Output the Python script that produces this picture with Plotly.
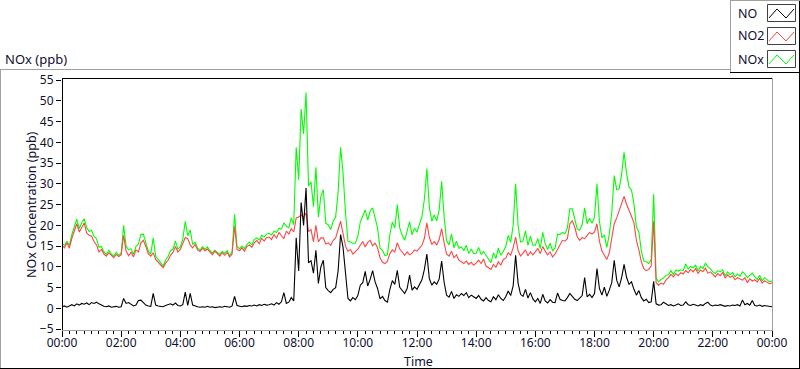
import plotly.graph_objects as go
import pandas as pd

# ---------------- data (5-minute readings, 00:00 -> 24:00) ----------------
times = pd.date_range("2020-01-01 00:00", "2020-01-02 00:00", freq="5min")

no2_ppb = [
    15.2, 14.6, 15.8, 14.5, 16.9, 18.8, 20.4, 18.4, 19.5, 20.6, 18.2, 17.6,
    17.4, 16.1, 15.3, 13.6, 14.2, 13.1, 12.6, 13.4, 12.8, 12.2, 13.0, 12.5,
    12.9, 17.6, 13.8, 12.7, 13.5, 12.4, 14.1, 13.6, 15.8, 16.4, 14.9, 13.2,
    12.6, 13.4, 11.8, 11.2, 10.4, 9.8, 10.9, 11.6, 12.8, 13.5, 14.9, 13.6,
    14.2, 15.8, 17.1, 16.8, 15.3, 14.6, 15.4, 14.1, 13.7, 14.5, 13.9, 14.3,
    13.6, 12.9, 13.8, 13.2, 12.6, 13.4, 12.8, 13.5, 12.4, 13.1, 19.8, 14.2,
    13.9, 14.6, 13.8, 14.9, 15.3, 14.7, 15.8, 16.4, 15.6, 16.9, 16.2, 17.1,
    17.2, 16.6, 17.8, 16.9, 18.3, 17.5, 16.8, 18.6, 17.9, 19.2, 18.4, 21.8,
    22.0, 22.5, 22.0, 23.0, 18.5, 19.0, 16.0, 20.0, 16.0, 17.0, 17.0, 15.5,
    15.8, 15.2, 16.4, 17.0, 19.0, 21.0, 18.0, 15.0, 13.8, 14.2, 13.1, 13.6,
    14.3, 15.2, 16.1, 14.8, 15.9, 16.4, 15.1, 15.7, 14.6, 12.2, 11.1, 10.8,
    11.4, 13.2, 14.1, 13.6, 15.8, 14.3, 13.4, 12.8, 13.6, 12.9, 13.3, 14.1,
    13.8, 14.6, 15.2, 16.9, 20.6, 17.2, 15.4, 16.1, 15.3, 16.6, 19.2, 15.8,
    13.1, 12.6, 13.8, 12.2, 12.9, 11.6, 11.2, 10.8, 11.4, 10.6, 11.1, 10.4,
    10.9, 11.6, 10.8, 11.9, 10.2, 9.8, 9.4, 10.6, 9.9, 11.2, 10.4, 11.8,
    12.1, 13.4, 12.8, 14.6, 17.2, 13.9, 12.6, 13.3, 14.1, 12.7, 13.6, 12.9,
    13.6, 14.4, 13.2, 14.9, 13.8, 12.9, 13.6, 12.4, 13.1, 14.2, 15.6, 16.4,
    16.2, 16.8, 20.4, 21.1, 19.6, 17.2, 16.4, 17.1, 16.8, 17.6, 18.3, 17.9,
    18.4, 20.4, 16.2, 13.8, 12.6, 11.8, 13.4, 16.9, 20.4, 21.8, 23.6, 24.9,
    27.0, 25.1, 23.4, 22.2, 20.6, 16.4, 14.1, 11.2, 9.6, 9.1, 9.4, 10.2,
    21.0, 6.2, 5.6, 6.1, 5.8, 6.8, 7.4, 8.2, 7.6, 8.4, 7.9, 8.6,
    8.3, 9.1, 8.6, 9.4, 8.8, 9.6, 8.4, 9.2, 8.9, 9.7, 8.5, 8.8,
    8.2, 7.6, 8.4, 7.9, 8.7, 7.3, 8.1, 7.5, 7.8, 6.9, 7.4, 7.1,
    6.8, 7.4, 6.2, 7.1, 6.6, 6.9, 6.4, 7.2, 6.1, 6.7, 6.3, 5.9,
    6.2,
]

no_ppb = [
    0.4, 0.6, 0.3, 0.7, 0.9, 0.6, 1.1, 0.8, 1.2, 1.0, 1.3, 0.9,
    1.4, 1.2, 1.5, 1.1, 0.7, 0.5, 0.4, 0.6, 0.3, 0.4, 0.5, 0.3,
    0.4, 2.4, 1.2, 1.4, 0.9, 0.6, 0.8, 1.9, 2.0, 1.5, 0.8, 0.6,
    0.5, 3.6, 0.8, 0.6, 0.5, 0.4, 0.7, 0.9, 1.1, 0.8, 1.3, 0.7,
    0.6, 0.9, 3.9, 0.7, 3.6, 0.8, 0.5, 0.4, 0.3, 0.4, 0.3, 0.5,
    0.3, 0.4, 0.2, 0.3, 0.4, 0.3, 0.5, 0.4, 0.3, 0.6, 2.9, 0.7,
    0.5, 0.4, 0.6, 0.5, 0.7, 0.6, 0.8, 0.6, 0.9, 0.7, 1.0, 0.8,
    0.9, 1.1, 0.8, 1.4, 1.0, 1.6, 3.8, 1.2, 1.5, 2.6, 1.8, 17.0,
    9.0, 25.5, 20.0, 29.0, 11.0, 11.5, 8.5, 14.0, 6.0, 10.0, 11.6, 5.0,
    4.3, 3.8, 4.6, 5.0, 9.0, 17.8, 14.7, 8.0, 2.4, 1.8, 2.6, 2.1,
    3.1, 5.6, 6.2, 8.9, 5.4, 7.0, 9.1, 6.4, 4.8, 2.3, 2.9, 1.9,
    1.5, 4.6, 6.7, 5.8, 9.2, 5.1, 4.2, 3.6, 4.8, 8.0, 4.4, 5.2,
    4.6, 5.8, 6.9, 9.4, 13.1, 7.2, 5.6, 6.4, 5.8, 7.1, 11.4, 6.3,
    3.2, 2.7, 4.1, 2.4, 3.3, 2.9, 3.6, 3.1, 3.8, 2.6, 3.2, 2.8,
    2.4, 3.1, 2.2, 1.8, 2.6, 1.9, 1.6, 2.8, 2.1, 3.3, 2.4, 1.9,
    2.8, 4.2, 3.1, 5.4, 12.8, 6.1, 3.4, 2.9, 4.6, 2.5, 3.8, 2.3,
    1.6, 2.4, 1.2, 3.4, 1.8, 1.3, 2.1, 1.5, 1.4, 3.7, 2.2, 1.9,
    1.8, 2.6, 3.6, 2.9, 2.2, 1.9, 2.4, 3.1, 7.4, 2.8, 3.4, 2.6,
    3.6, 9.6, 4.8, 3.2, 5.1, 2.9, 4.4, 6.2, 11.6, 6.8, 5.2, 7.4,
    10.6, 7.5, 5.8, 6.4, 4.6, 3.2, 4.3, 2.6, 1.8, 2.2, 1.4, 1.6,
    6.5, 1.1, 0.8, 0.9, 1.5, 1.2, 0.7, 0.9, 0.6, 0.8, 1.1, 0.7,
    0.8, 1.6, 0.9, 0.7, 1.0, 0.8, 0.6, 0.9, 0.7, 1.2, 1.5, 0.8,
    0.6, 0.8, 0.7, 0.9, 0.6, 0.5, 0.7, 0.6, 0.8, 0.7, 0.9, 0.6,
    2.0, 0.9, 1.2, 0.8, 1.9, 0.7, 0.6, 0.8, 0.5, 0.7, 0.6, 0.5,
    0.4,
]

nox_ppb = [
    15.6, 15.2, 16.1, 15.2, 17.8, 19.4, 21.5, 19.2, 20.7, 21.6, 19.5, 18.5,
    18.8, 17.3, 16.8, 14.7, 14.9, 13.6, 13.0, 14.0, 13.1, 12.6, 13.5, 12.8,
    13.3, 20.0, 15.0, 14.1, 14.4, 13.0, 14.9, 15.5, 17.8, 17.9, 15.7, 13.8,
    13.1, 17.0, 12.6, 11.8, 10.9, 10.2, 11.6, 12.5, 13.9, 14.3, 16.2, 14.3,
    14.8, 16.7, 21.0, 17.5, 18.9, 15.4, 15.9, 14.5, 14.0, 14.9, 14.2, 14.8,
    13.9, 13.3, 14.0, 13.5, 13.0, 13.7, 13.3, 13.9, 12.7, 13.7, 22.7, 14.9,
    14.4, 15.0, 14.4, 15.4, 16.0, 15.3, 16.6, 17.0, 16.5, 17.6, 17.2, 17.9,
    18.1, 17.7, 18.6, 18.3, 19.3, 19.1, 20.6, 19.8, 19.4, 21.8, 20.2, 38.8,
    31.0, 48.0, 42.0, 52.0, 29.5, 30.5, 24.5, 34.0, 22.0, 27.0, 28.6, 20.5,
    20.1, 19.0, 21.0, 22.0, 28.0, 38.8, 32.7, 23.0, 16.2, 16.0, 15.7, 15.7,
    17.4, 20.8, 22.3, 23.7, 21.3, 23.4, 24.2, 22.1, 19.4, 14.5, 14.0, 12.7,
    12.9, 17.8, 20.8, 19.4, 25.0, 19.4, 17.6, 16.4, 18.4, 20.9, 17.7, 19.3,
    18.4, 20.4, 22.1, 26.3, 33.7, 24.4, 21.0, 22.5, 21.1, 23.7, 30.6, 22.1,
    16.3, 15.3, 17.9, 14.6, 16.2, 14.5, 14.8, 13.9, 15.2, 13.2, 14.3, 13.2,
    13.3, 14.7, 13.0, 13.7, 12.8, 11.7, 11.0, 13.4, 12.0, 14.5, 12.8, 13.7,
    14.9, 17.6, 15.9, 20.0, 30.0, 20.0, 16.0, 16.2, 18.7, 15.2, 17.4, 15.2,
    15.2, 16.8, 14.4, 18.3, 15.6, 14.2, 15.7, 13.9, 14.5, 17.9, 17.8, 18.3,
    18.0, 19.4, 24.0, 24.0, 21.8, 19.1, 18.8, 20.2, 24.2, 20.4, 21.7, 20.5,
    22.0, 30.0, 21.0, 17.0, 17.7, 14.7, 17.8, 23.1, 32.0, 28.6, 28.8, 32.3,
    37.6, 32.6, 29.2, 28.6, 25.2, 19.6, 18.4, 13.8, 11.4, 11.3, 10.8, 11.8,
    27.5, 7.3, 6.4, 7.0, 7.3, 8.0, 8.1, 9.1, 8.2, 9.2, 9.0, 9.3,
    9.1, 10.7, 9.5, 10.1, 9.8, 10.4, 9.0, 10.1, 9.6, 10.9, 10.0, 9.6,
    8.8, 8.4, 9.1, 8.8, 9.3, 7.8, 8.8, 8.1, 8.6, 7.6, 8.3, 7.7,
    8.8, 8.3, 7.4, 7.9, 8.5, 7.6, 7.0, 8.0, 6.6, 7.4, 6.9, 6.4,
    6.6,
]

series_names = ["NO", "NO2", "NOx"]
series_colors = ["#000000", "#ff4646", "#00ff00"]

x_tick_vals = pd.date_range("2020-01-01 00:00", "2020-01-02 00:00", freq="2h")
x_tick_labels = ["00:00", "02:00", "04:00", "06:00", "08:00", "10:00", "12:00",
                 "14:00", "16:00", "18:00", "20:00", "22:00", "00:00"]
y_tick_vals = [-5, 0, 5, 10, 15, 20, 25, 30, 35, 40, 45, 50, 55]

# ---------------- layout geometry (pixels) ----------------
W, H = 800, 369
PL, PR, PT, PB = 62, 772, 78, 330
FONT = "Noto Sans"
TXT = "#101030"


def fx(x):
    return (x - PL) / (PR - PL)


def fy(y):
    return (PB - y) / (PB - PT)


fig = go.Figure()
# draw order: NOx underneath, NO2, then NO on top
for name, vals, col in [("NOx", nox_ppb, series_colors[2]),
                        ("NO2", no2_ppb, series_colors[1]),
                        ("NO", no_ppb, series_colors[0])]:
    fig.add_trace(go.Scatter(x=times, y=vals, mode="lines", name=name,
                             line=dict(color=col, width=1.1), showlegend=False,
                             hoverinfo="skip"))

fig.update_layout(
    width=W, height=H,
    margin=dict(l=PL, r=W - PR, t=PT, b=H - PB),
    paper_bgcolor="white", plot_bgcolor="white",
    font=dict(family=FONT, size=12, color=TXT),
    showlegend=False,
)

fig.update_xaxes(
    range=[times[0], times[-1]],
    tickmode="array", tickvals=x_tick_vals, ticktext=x_tick_labels,
    ticks="outside", ticklen=6, tickcolor="#000000", tickwidth=1,
    ticklabelstandoff=-4,
    showgrid=False, zeroline=False, showline=False,
    tickfont=dict(family=FONT, size=12, color=TXT),
    minor=dict(ticks="outside", ticklen=3, tickcolor="#000000",
               dtick=15 * 60 * 1000, tick0="2020-01-01 00:00", showgrid=False),
)
fig.update_yaxes(
    range=[-5.2, 55.5],
    tickmode="array", tickvals=y_tick_vals,
    ticks="outside", ticklen=5, tickcolor="#000000", tickwidth=1,
    showgrid=False, zeroline=False, showline=False,
    tickfont=dict(family=FONT, size=12, color=TXT),
)

shapes = []


def hline(y, x0, x1, color):
    shapes.append(dict(type="line", xref="paper", yref="paper",
                       x0=fx(x0), x1=fx(x1), y0=fy(y), y1=fy(y),
                       line=dict(color=color, width=1)))


def vline(x, y0, y1, color):
    shapes.append(dict(type="line", xref="paper", yref="paper",
                       x0=fx(x), x1=fx(x), y0=fy(y0), y1=fy(y1),
                       line=dict(color=color, width=1)))


# plot area border
hline(PT + 0.5, PL, PR, "#000000")
vline(PL + 0.5, PT, PB, "#000000")
vline(PR + 0.5, PT, PB + 1, "#a0a0a0")
hline(PB + 0.5, PL, PR + 1, "#a0a0a0")

# outer frame
hline(69.5, 0, 730, "#a0a0a0")
vline(0.5, 69, 369, "#a0a0a0")
hline(368.5, 0, 800, "#000000")
vline(799.5, 0, 369, "#000000")

# legend box
vline(730.5, 0, 72, "#a0a0a0")
hline(0.5, 730, 800, "#a0a0a0")
hline(72.5, 730, 800, "#000000")

annotations = []
legend_rows = [(13, "NO", series_colors[0]), (36, "NO2", series_colors[1]),
               (59, "NOx", series_colors[2])]
for yc, label, col in legend_rows:
    annotations.append(dict(text=label, xref="paper", yref="paper",
                            x=fx(736), y=fy(yc), xanchor="left", yanchor="middle",
                            showarrow=False, font=dict(family=FONT, size=12.5, color=TXT)))
    # swatch box
    shapes.append(dict(type="rect", xref="paper", yref="paper",
                       x0=fx(767.5), x1=fx(795.5), y0=fy(yc + 8.5), y1=fy(yc - 8.5),
                       line=dict(color="#404040", width=1), fillcolor="white"))
    # zigzag
    pts = [(769, yc + 5), (777, yc - 4), (786, yc + 5), (794, yc - 4)]
    path = "M " + " L ".join(f"{fx(a):.5f},{fy(b):.5f}" for a, b in pts)
    shapes.append(dict(type="path", xref="paper", yref="paper", path=path,
                       line=dict(color=col, width=1)))

annotations.append(dict(text="NOx (ppb)", xref="paper", yref="paper",
                        x=fx(3), y=fy(59), xanchor="left", yanchor="middle",
                        showarrow=False, font=dict(family=FONT, size=13, color=TXT)))
annotations.append(dict(text="NOx Concentration (ppb)", xref="paper", yref="paper",
                        x=fx(31), y=fy(205), xanchor="center", yanchor="middle",
                        textangle=-90, showarrow=False,
                        font=dict(family=FONT, size=12.5, color=TXT)))
annotations.append(dict(text="Time", xref="paper", yref="paper",
                        x=fx(418), y=fy(361), xanchor="center", yanchor="middle",
                        showarrow=False, font=dict(family=FONT, size=12.5, color=TXT)))

fig.update_layout(shapes=shapes, annotations=annotations)

fig.write_html("out.html", config={"displayModeBar": False},
               post_script="document.body.style.margin='0';document.body.style.padding='0';")
